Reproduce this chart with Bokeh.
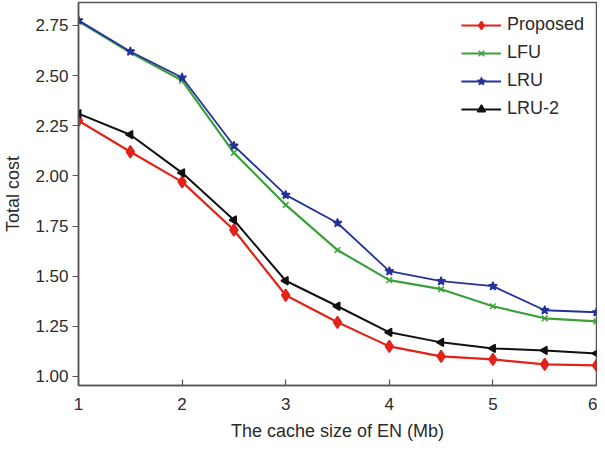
import math
from bokeh.plotting import figure
from bokeh.models import Range1d, FixedTicker, NumeralTickFormatter, Legend, LegendItem
from bokeh.embed import file_html
from bokeh.resources import INLINE

cache_size = [1, 1.5, 2, 2.5, 3, 3.5, 4, 4.5, 5, 5.5, 6]
proposed = [2.275, 2.12, 1.97, 1.73, 1.405, 1.27, 1.15, 1.10, 1.085, 1.06, 1.055]
lfu = [2.77, 2.615, 2.475, 2.115, 1.855, 1.63, 1.48, 1.435, 1.35, 1.29, 1.275]
lru = [2.775, 2.62, 2.49, 2.15, 1.905, 1.765, 1.525, 1.475, 1.45, 1.33, 1.32]
lru2 = [2.31, 2.205, 2.015, 1.78, 1.477, 1.35, 1.22, 1.17, 1.14, 1.13, 1.115]

x_ticks = [1, 2, 3, 4, 5, 6]
y_ticks = [1.0, 1.25, 1.5, 1.75, 2.0, 2.25, 2.5, 2.75]

FONT = "Liberation Sans"
TXT = "#2b2b2b"

p = figure(frame_width=518, frame_height=383, output_backend="svg", toolbar_location=None,
           x_range=Range1d(1, 6), y_range=Range1d(0.955, 2.864),
           min_border_left=74, min_border_right=1, min_border_top=2, min_border_bottom=50)
p.grid.visible = False
p.outline_line_color = "#555555"
p.outline_line_width = 1.5

p.xaxis.ticker = FixedTicker(ticks=x_ticks)
p.yaxis.ticker = FixedTicker(ticks=y_ticks)
p.yaxis.formatter = NumeralTickFormatter(format="0.00")
for ax in (p.xaxis, p.yaxis):
    ax.axis_line_color = "#555555"
    ax.axis_line_width = 1.5
    ax.major_tick_line_color = "#555555"
    ax.major_tick_line_width = 1.2
    ax.minor_tick_line_color = None
    ax.major_label_text_font = FONT
    ax.major_label_text_font_size = "17px"
    ax.major_label_text_color = TXT
    ax.axis_label_text_font = FONT
    ax.axis_label_text_font_size = "18px"
    ax.axis_label_text_color = TXT
    ax.axis_label_text_font_style = "normal"
p.xaxis.major_tick_in = 6
p.xaxis.major_tick_out = 0
p.yaxis.major_tick_in = 0
p.yaxis.major_tick_out = 6
p.yaxis.major_label_standoff = 4
p.xaxis.major_label_standoff = 12
p.xaxis.axis_label_standoff = 8
p.yaxis.axis_label_standoff = 9
p.xaxis.axis_label = "The cache size of EN (Mb)"
p.yaxis.axis_label = "Total cost"

series = [
    ("Proposed", proposed, "#e32219", "diamond", 12, 2.2, 0),
    ("LFU", lfu, "#3aa03a", "x", 8, 2.2, 0),
    ("LRU", lru, "#25329a", "star", 9, 1.8, 0),
    ("LRU-2", lru2, "#111111", "triangle", 8, 2.0, math.pi / 2),
]
items = []
for name, ys, color, marker, size, lw, ang in series:
    l = p.line(cache_size, ys, line_color=color, line_width=lw)
    s = p.scatter(cache_size, ys, marker=marker, size=size, angle=ang,
                  line_color=color, fill_color=color, line_width=1.5)
    items.append(LegendItem(label=name, renderers=[l, s]))

legend = Legend(items=items, location="top_right")
legend.background_fill_alpha = 0
legend.border_line_color = None
legend.label_text_font = FONT
legend.label_text_font_size = "18px"
legend.label_text_color = TXT
legend.glyph_width = 40
legend.glyph_height = 20
legend.spacing = 7
legend.padding = 4
legend.margin = 12
legend.label_standoff = 6
p.add_layout(legend)

open("out.html", "w").write(file_html(p, INLINE))
